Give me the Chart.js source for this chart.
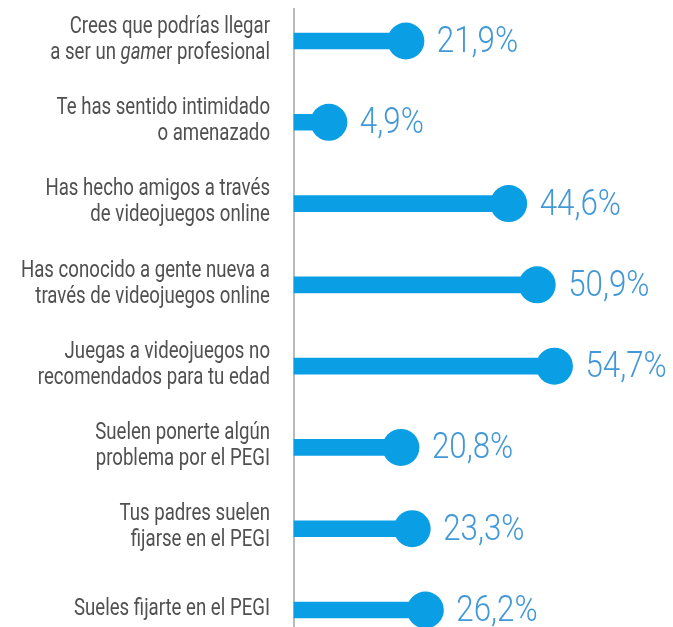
<!DOCTYPE html>
<html>
<head>
<meta charset="utf-8">
<script src="https://cdn.jsdelivr.net/npm/chart.js@4"></script>
<style>
  html, body { margin: 0; padding: 0; background: #fff; }
</style>
</head>
<body>
<canvas id="chart" width="673" height="627"></canvas>
<script>
// Datos
const preguntas = [
  ["Crees que podrías llegar", "a ser un gamer profesional"],
  ["Te has sentido intimidado", "o amenazado"],
  ["Has hecho amigos a través", "de videojuegos online"],
  ["Has conocido a gente nueva a", "través de videojuegos online"],
  ["Juegas a videojuegos no", "recomendados para tu edad"],
  ["Suelen ponerte algún", "problema por el PEGI"],
  ["Tus padres suelen", "fijarse en el PEGI"],
  ["Sueles fijarte en el PEGI"]
];
const porcentajes = [21.9, 4.9, 44.6, 50.9, 54.7, 20.8, 23.3, 26.2];
const cursiva = "game"; // trozo en cursiva en la primera pregunta

const AZUL = "#0a9fe4";
const AZUL_TEXTO = "#4298d6";
const GRIS_TEXTO = "#505050";
const X_MIN = -2.8, X_MAX = 80;
const FUENTE = "Roboto, 'Liberation Sans', sans-serif";
const ESTRECHO = 0.81; // no hay fuentes condensadas, se comprime en x

// Linea vertical del eje
const lineaEje = {
  id: "lineaEje",
  beforeDatasetsDraw(chart) {
    const ctx = chart.ctx;
    const x = chart.scales.x.getPixelForValue(X_MIN);
    ctx.save();
    ctx.strokeStyle = "#a3a3a3";
    ctx.lineWidth = 1.5;
    ctx.beginPath();
    ctx.moveTo(x, 8);
    ctx.lineTo(x, chart.height);
    ctx.stroke();
    ctx.restore();
  }
};

// Texto de las preguntas (a la izquierda del eje)
function lineaTexto(ctx, txt, xDer, y) {
  const normal = "23px " + FUENTE, ital = "italic 23px " + FUENTE;
  let partes = [[txt, normal]];
  const k = txt.indexOf(cursiva);
  if (k >= 0) {
    partes = [[txt.slice(0, k), normal], [cursiva, ital], [txt.slice(k + cursiva.length), normal]];
  }
  let total = 0;
  partes.forEach(p => { ctx.font = p[1]; total += ctx.measureText(p[0]).width; });
  ctx.save();
  ctx.translate(xDer, y);
  ctx.scale(ESTRECHO, 1);
  let x = -total;
  partes.forEach(p => {
    ctx.font = p[1];
    ctx.fillText(p[0], x, 0);
    x += ctx.measureText(p[0]).width;
  });
  ctx.restore();
}

const preguntasEje = {
  id: "preguntasEje",
  afterDraw(chart) {
    const ctx = chart.ctx;
    const ys = chart.scales.y;
    const xDer = chart.scales.x.getPixelForValue(X_MIN) - 24;
    const alto = 26;
    ctx.save();
    ctx.fillStyle = GRIS_TEXTO;
    ctx.textAlign = "left";
    ctx.textBaseline = "middle";
    preguntas.forEach((lineas, i) => {
      const y0 = ys.getPixelForTick(i) - (lineas.length - 1) * alto / 2 - 1;
      lineas.forEach((l, j) => lineaTexto(ctx, l, xDer, y0 + j * alto));
    });
    ctx.restore();
  }
};

// Etiquetas de porcentaje junto a cada circulo
const etiquetas = {
  id: "etiquetas",
  afterDatasetsDraw(chart) {
    const ctx = chart.ctx;
    const meta = chart.getDatasetMeta(1);
    ctx.save();
    ctx.font = "300 36px " + FUENTE;
    ctx.fillStyle = AZUL_TEXTO;
    ctx.textAlign = "left";
    ctx.textBaseline = "middle";
    meta.data.forEach((pt, i) => {
      const txt = porcentajes[i].toFixed(1).replace(".", ",") + "%";
      ctx.save();
      ctx.translate(pt.x + 31, pt.y + 2);
      ctx.scale(0.87, 1);
      ctx.fillText(txt, 0, 0);
      ctx.restore();
    });
    ctx.restore();
  }
};

new Chart(document.getElementById("chart"), {
  data: {
    labels: preguntas.map(l => l.join(" ")),
    datasets: [
      {
        type: "bar",
        data: porcentajes,
        backgroundColor: AZUL,
        barThickness: 16,
        base: X_MIN,
        clip: false
      },
      {
        type: "line",
        data: porcentajes,
        showLine: false,
        pointRadius: 18.5,
        pointBackgroundColor: AZUL,
        pointBorderWidth: 0,
        clip: false
      }
    ]
  },
  options: {
    indexAxis: "y",
    responsive: false,
    animation: false,
    events: [],
    layout: { autoPadding: false, padding: { top: 41, bottom: 17, left: 0, right: 4 } },
    plugins: { legend: { display: false }, tooltip: { enabled: false } },
    scales: {
      x: { type: "linear", min: X_MIN, max: X_MAX, display: false },
      y: {
        type: "category",
        offset: false,
        grid: { display: false, drawTicks: false },
        border: { display: false },
        ticks: { display: false },
        afterFit(scale) { scale.width = 294; }
      }
    }
  },
  plugins: [lineaEje, preguntasEje, etiquetas]
});
</script>
</body>
</html>
